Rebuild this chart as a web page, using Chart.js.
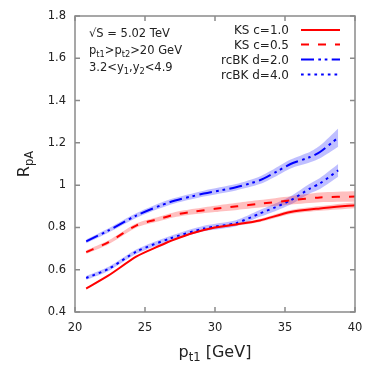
<!DOCTYPE html>
<html>
<head>
<meta charset="utf-8">
<script src="https://cdn.jsdelivr.net/npm/chart.js@4"></script>
<style>
  html, body { margin: 0; padding: 0; background: #fff; }
  #wrap { width: 374px; height: 374px; }
</style>
</head>
<body>
<div id="wrap"><canvas id="rpaChart" width="374" height="374"></canvas></div>
<script>
// KS curves (c = 1.0 and c = 0.5)
var ksX      = [20.8, 22.4, 24.4, 26.0, 27.1, 28.5, 30.0, 31.6, 33.2, 35.4, 37.5, 40.0];
var ksC1     = [0.511, 0.573, 0.663, 0.712, 0.743, 0.775, 0.800, 0.815, 0.833, 0.873, 0.890, 0.905];
var ksC1Lo   = [0.509, 0.571, 0.661, 0.709, 0.740, 0.771, 0.795, 0.809, 0.826, 0.864, 0.879, 0.891];
var ksC1Hi   = [0.513, 0.575, 0.665, 0.715, 0.746, 0.779, 0.805, 0.821, 0.840, 0.882, 0.901, 0.919];
var ksC05    = [0.683, 0.730, 0.810, 0.840, 0.860, 0.875, 0.888, 0.900, 0.912, 0.928, 0.942, 0.946];
var ksC05Lo  = [0.675, 0.721, 0.800, 0.829, 0.848, 0.862, 0.873, 0.883, 0.894, 0.908, 0.919, 0.921];
var ksC05Hi  = [0.691, 0.739, 0.820, 0.851, 0.872, 0.888, 0.903, 0.917, 0.930, 0.948, 0.965, 0.971];

// rcBK curves (d = 2.0 and d = 4.0)
var bkX      = [20.8, 22.4, 24.4, 26.8, 29.2, 31.5, 33.2, 34.3, 35.4, 36.8, 37.5, 38.8];
var bkD2     = [0.734, 0.786, 0.857, 0.920, 0.960, 0.990, 1.023, 1.060, 1.100, 1.133, 1.157, 1.225];
var bkD2Lo   = [0.725, 0.776, 0.846, 0.907, 0.946, 0.975, 1.005, 1.040, 1.079, 1.108, 1.127, 1.182];
var bkD2Hi   = [0.743, 0.796, 0.868, 0.933, 0.974, 1.005, 1.041, 1.080, 1.121, 1.158, 1.187, 1.268];
var bkD4     = [0.561, 0.604, 0.686, 0.748, 0.795, 0.820, 0.866, 0.895, 0.928, 0.985, 1.008, 1.070];
var bkD4Lo   = [0.552, 0.594, 0.675, 0.736, 0.782, 0.806, 0.850, 0.877, 0.908, 0.962, 0.982, 1.040];
var bkD4Hi   = [0.570, 0.614, 0.697, 0.760, 0.808, 0.834, 0.882, 0.913, 0.948, 1.008, 1.034, 1.100];

var xTicks = [20, 25, 30, 35, 40];
var yTicks = [0.4, 0.6, 0.8, 1.0, 1.2, 1.4, 1.6, 1.8];

var legendNames = ['KS c=1.0', 'KS c=0.5', 'rcBK d=2.0', 'rcBK d=4.0'];

var RED = '#ff0000', BLUE = '#0000ff';
var RED_BAND = 'rgba(255,0,0,0.25)', BLUE_BAND = 'rgba(0,0,255,0.25)';
var FONT = '"DejaVu Sans", Verdana, sans-serif';
var DASH = [[], [8, 9], [13, 4.3, 2.7, 3.7, 2.7, 4.3], [2.7, 4]];

function pts(xs, ys) {
    return xs.map(function (x, i) { return {x: x, y: ys[i]}; });
}

function band(xs, hi, lo, color) {
    return [
        {data: pts(xs, hi), borderWidth: 0, pointRadius: 0, fill: '+1', backgroundColor: color, tension: 0.25},
        {data: pts(xs, lo), borderWidth: 0, pointRadius: 0, fill: false, tension: 0.25}
    ];
}

function curve(xs, ys, color, dash) {
    return {data: pts(xs, ys), borderColor: color, borderWidth: 2, borderDash: dash,
            pointRadius: 0, fill: false, tension: 0.25};
}

// text with subscripts: parts = [[text, isSub], ...]
function richText(ctx, x, y, parts, size, align) {
    var w = 0;
    parts.forEach(function (p) {
        ctx.font = (p[1] ? size * 0.72 : size) + 'px ' + FONT;
        w += ctx.measureText(p[0]).width;
    });
    var cx = align === 'center' ? x - w / 2 : (align === 'right' ? x - w : x);
    ctx.textAlign = 'left';
    ctx.textBaseline = 'alphabetic';
    parts.forEach(function (p) {
        ctx.font = (p[1] ? size * 0.72 : size) + 'px ' + FONT;
        ctx.fillText(p[0], cx, y + (p[1] ? size * 0.28 : 0));
        cx += ctx.measureText(p[0]).width;
    });
}

var decor = {
    id: 'decor',
    afterDraw: function (chart) {
        var ctx = chart.ctx, a = chart.chartArea;
        var xs = chart.scales.x, ys = chart.scales.y;
        ctx.save();
        // frame
        ctx.strokeStyle = '#8a8a8a';
        ctx.lineWidth = 1.5;
        ctx.strokeRect(a.left, a.top, a.right - a.left, a.bottom - a.top);
        // inward ticks on all four sides
        ctx.beginPath();
        xTicks.forEach(function (v) {
            var px = xs.getPixelForValue(v);
            ctx.moveTo(px, a.bottom); ctx.lineTo(px, a.bottom - 5);
            ctx.moveTo(px, a.top); ctx.lineTo(px, a.top + 5);
        });
        yTicks.forEach(function (v) {
            var py = ys.getPixelForValue(v);
            ctx.moveTo(a.left, py); ctx.lineTo(a.left + 5, py);
            ctx.moveTo(a.right, py); ctx.lineTo(a.right - 5, py);
        });
        ctx.stroke();

        ctx.fillStyle = '#222';
        // annotation
        richText(ctx, a.left + 14, 37, [['\u221AS = 5.02 TeV', 0]], 11.5, 'left');
        richText(ctx, a.left + 14, 54, [['p', 0], ['t1', 1], ['>p', 0], ['t2', 1], ['>20 GeV', 0]], 11.5, 'left');
        richText(ctx, a.left + 14, 71, [['3.2<y', 0], ['1', 1], [',y', 0], ['2', 1], ['<4.9', 0]], 11.5, 'left');

        // legend
        var rows = [30, 44.5, 59.5, 74.5];
        legendNames.forEach(function (name, i) {
            richText(ctx, 289, rows[i] + 4, [[name, 0]], 12, 'right');
            ctx.beginPath();
            ctx.strokeStyle = i < 2 ? RED : BLUE;
            ctx.lineWidth = 2;
            ctx.setLineDash(DASH[i]);
            ctx.moveTo(301, rows[i]); ctx.lineTo(340, rows[i]);
            ctx.stroke();
        });
        ctx.setLineDash([]);

        // axis titles
        richText(ctx, (a.left + a.right) / 2, 357, [['p', 0], ['t1', 1], [' [GeV]', 0]], 16, 'center');
        ctx.translate(29, (a.top + a.bottom) / 2);
        ctx.rotate(-Math.PI / 2);
        richText(ctx, 0, 0, [['R', 0], ['pA', 1]], 16, 'center');
        ctx.restore();
    }
};

var ctx = document.getElementById('rpaChart').getContext('2d');

new Chart(ctx, {
    type: 'line',
    data: {
        datasets: [].concat(
            band(ksX, ksC1Hi, ksC1Lo, RED_BAND),
            band(ksX, ksC05Hi, ksC05Lo, RED_BAND),
            band(bkX, bkD2Hi, bkD2Lo, BLUE_BAND),
            band(bkX, bkD4Hi, bkD4Lo, BLUE_BAND),
            [
                curve(ksX, ksC1, RED, DASH[0]),
                curve(ksX, ksC05, RED, DASH[1]),
                curve(bkX, bkD2, BLUE, DASH[2]),
                curve(bkX, bkD4, BLUE, DASH[3])
            ]
        )
    },
    options: {
        responsive: false,
        animation: false,
        layout: {padding: {top: 16, right: 19, left: 0, bottom: 0}},
        plugins: {
            legend: {display: false},
            tooltip: {enabled: false},
            filler: {drawTime: 'beforeDatasetsDraw'}
        },
        scales: {
            x: {
                type: 'linear', min: 20, max: 40,
                afterBuildTicks: function (s) { s.ticks = xTicks.map(function (v) { return {value: v}; }); },
                afterFit: function (s) { s.height = 62; },
                grid: {display: false, drawTicks: false},
                border: {display: false},
                ticks: {padding: 9, color: '#222', font: {family: FONT, size: 11.5}}
            },
            y: {
                type: 'linear', min: 0.4, max: 1.8,
                afterBuildTicks: function (s) { s.ticks = yTicks.map(function (v) { return {value: v}; }); },
                afterFit: function (s) { s.width = 75; },
                grid: {display: false, drawTicks: false},
                border: {display: false},
                ticks: {
                    padding: 9, color: '#222', font: {family: FONT, size: 11.5},
                    callback: function (v) { return String(Number(v.toFixed(1))); }
                }
            }
        }
    },
    plugins: [decor]
});
</script>
</body>
</html>
